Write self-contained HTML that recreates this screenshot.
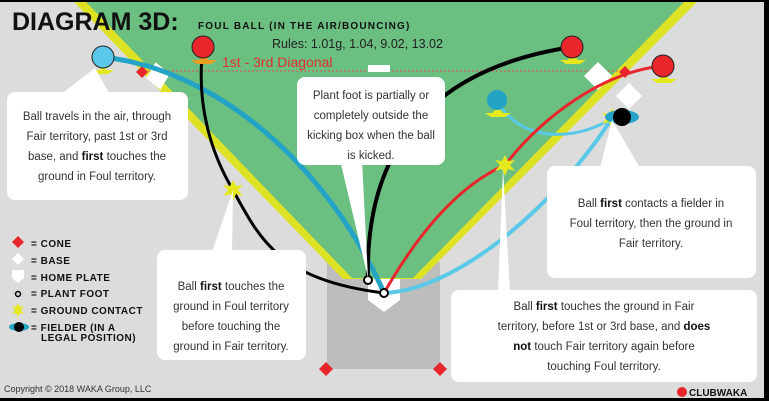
<!DOCTYPE html>
<html><head><meta charset="utf-8"><style>
html,body{margin:0;padding:0}
body{width:769px;height:401px;overflow:hidden;background:#000;font-family:"Liberation Sans",sans-serif}
svg{display:block}
.t{font-family:"Liberation Sans",sans-serif;font-size:11.5px;fill:#333;text-anchor:middle}
.lg{font-family:"Liberation Sans",sans-serif;font-size:10px;font-weight:bold;fill:#111;letter-spacing:.5px}
</style></head><body>
<svg width="769" height="401" viewBox="0 0 769 401" xmlns="http://www.w3.org/2000/svg">
<rect x="0" y="2" width="764" height="396" fill="#dcdcdc"/>
<rect x="327" y="262" width="113" height="107" fill="#bdbdbd"/>
<polygon points="74,2 697,2 421,279 343,279" fill="#dde324"/>
<polygon points="86,2 684,2 413,278 352,278" fill="#6bbf80"/>
<polygon points="368,279 400,279 400,300 384,312 368,300" fill="#fff"/>
<polygon points="326,362 333,369 326,376 319,369" fill="#e8262b"/>
<polygon points="440,362 447,369 440,376 433,369" fill="#e8262b"/>
<line x1="140" y1="71" x2="622" y2="71" stroke="#e05050" stroke-width="1" stroke-dasharray="2,2"/>
<rect x="368" y="65" width="22" height="7" fill="#fff"/>
<!-- bases -->
<polygon points="158,62 170,76 158,90 146,76" fill="#fff" transform="rotate(-10 158 76)"/>
<polygon points="142,66 148,72 142,78 136,72" fill="#e8262b"/>
<polygon points="598,62 612,76 598,90 584,76" fill="#fff"/>
<polygon points="629,83 642,96 629,109 616,96" fill="#fff"/>
<polygon points="625,66 631,72 625,78 619,72" fill="#e8262b"/>
<!-- curves -->
<path d="M103,57 C220,70 330,170 384,293" stroke="#23a3c5" stroke-width="5" fill="none"/>
<path d="M384,293 C460,290 560,200 612,118" stroke="#5ac8e8" stroke-width="4" fill="none"/>
<path d="M612,118 C580,140 520,145 497,100" stroke="#5ac8e8" stroke-width="3" fill="none"/>
<path d="M203,47 C195,110 215,160 233,190 C260,240 280,280 384,293" stroke="#000" stroke-width="3" fill="none"/>
<path d="M368,280 C365,160 420,70 572,47" stroke="#000" stroke-width="4" fill="none"/>
<path d="M384,293 C420,230 460,185 505,165 C540,120 600,72 663,66" stroke="#e8262b" stroke-width="3" fill="none"/>
<circle cx="368" cy="280" r="4" fill="#fff" stroke="#000" stroke-width="2"/>
<circle cx="384" cy="293" r="4" fill="#fff" stroke="#000" stroke-width="2"/>
<!-- stars -->
<g fill="#e6e81e">
<polygon points="233,180 236,186 243,185 238,190 243,196 236,194 233,201 230,194 223,196 228,190 223,185 230,186"/>
<polygon points="505,155 508,161 515,160 510,165 515,171 508,169 505,176 502,169 495,171 500,165 495,160 502,161"/>
<polygon points="612,108 615,114 622,113 617,118 622,124 615,122 612,129 609,122 602,124 607,118 602,113 609,114"/>
<polygon points="103,62 106,70 114,70 108,74 97,74 92,70 100,70"/>
<polygon points="203,52 209,60 217,60 211,64 197,64 191,60 199,60" fill="#e8a020"/>
<polygon points="572,52 578,60 586,60 580,64 566,64 560,60 568,60"/>
<polygon points="663,71 669,79 677,79 671,83 657,83 651,79 659,79"/>
<polygon points="497,105 503,113 511,113 505,117 491,117 485,113 493,113"/>
</g>
<circle cx="103" cy="57" r="11" fill="#5ac8e8" stroke="#222" stroke-width="1"/>
<circle cx="203" cy="47" r="11" fill="#e8262b" stroke="#222" stroke-width="1"/>
<circle cx="572" cy="47" r="11" fill="#e8262b" stroke="#222" stroke-width="1"/>
<circle cx="663" cy="66" r="11" fill="#e8262b" stroke="#222" stroke-width="1"/>
<circle cx="497" cy="100" r="10" fill="#23a3c5"/>
<ellipse cx="622" cy="117" rx="17" ry="7" fill="#23a3c5"/>
<circle cx="622" cy="117" r="9" fill="#000"/>
<!-- pointers -->
<g fill="#fff">
<polygon points="95,68 60,95 110,95"/>
<polygon points="368,278 340,160 362,160"/>
<polygon points="233,190 212,252 232,252"/>
<polygon points="612,120 600,168 640,168"/>
<polygon points="503,168 498,292 510,292"/>
</g>
<!-- boxes -->
<g fill="#fff">
<rect x="7" y="92" width="181" height="108" rx="8"/>
<rect x="297" y="77" width="148" height="88" rx="8"/>
<rect x="157" y="250" width="149" height="110" rx="8"/>
<rect x="547" y="166" width="209" height="112" rx="8"/>
<rect x="451" y="290" width="306" height="92" rx="8"/>
</g>
<text class="t" x="97" y="120">Ball travels in the air, through</text>
<text class="t" x="97" y="140">Fair territory, past 1st or 3rd</text>
<text class="t" x="97" y="160">base, and <tspan font-weight="bold" fill="#111">first</tspan> touches the</text>
<text class="t" x="97" y="180">ground in Foul territory.</text>
<text class="t" x="371" y="99">Plant foot is partially or</text>
<text class="t" x="371" y="119">completely outside the</text>
<text class="t" x="371" y="139">kicking box when the ball</text>
<text class="t" x="371" y="159">is kicked.</text>
<text class="t" x="231" y="290">Ball <tspan font-weight="bold" fill="#111">first</tspan> touches the</text>
<text class="t" x="231" y="310">ground in Foul territory</text>
<text class="t" x="231" y="330">before touching the</text>
<text class="t" x="231" y="350">ground in Fair territory.</text>
<text class="t" x="651" y="207">Ball <tspan font-weight="bold" fill="#111">first</tspan> contacts a fielder in</text>
<text class="t" x="651" y="227">Foul territory, then the ground in</text>
<text class="t" x="651" y="247">Fair territory.</text>
<text class="t" x="604" y="310">Ball <tspan font-weight="bold" fill="#111">first</tspan> touches the ground in Fair</text>
<text class="t" x="604" y="330">territory, before 1st or 3rd base, and <tspan font-weight="bold" fill="#111">does</tspan></text>
<text class="t" x="604" y="350"><tspan font-weight="bold" fill="#111">not</tspan> touch Fair territory again before</text>
<text class="t" x="604" y="370">touching Foul territory.</text>
<!-- title -->
<text x="12" y="30" font-family="Liberation Sans" font-weight="bold" font-size="25" fill="#111">DIAGRAM 3D:</text>
<text x="198" y="29" font-family="Liberation Sans" font-weight="bold" font-size="10" letter-spacing="1.2" fill="#111">FOUL BALL (IN THE AIR/BOUNCING)</text>
<text x="272" y="48" font-family="Liberation Sans" font-size="12.5" fill="#222">Rules: 1.01g, 1.04, 9.02, 13.02</text>
<text x="222" y="67" font-family="Liberation Sans" font-size="14" fill="#e03030">1st - 3rd Diagonal</text>
<!-- legend -->
<polygon points="18,236 24,242 18,248 12,242" fill="#e8262b"/>
<polygon points="18,253 24,259 18,265 12,259" fill="#fff"/>
<polygon points="12,270 24,270 24,278 18,283 12,278" fill="#fff"/>
<circle cx="18" cy="294" r="2.5" fill="none" stroke="#000" stroke-width="1.5"/>
<polygon points="18,303 20,307 24,306 21,310 24,314 20,313 18,317 16,313 12,314 15,310 12,306 16,307" fill="#e6e81e"/>
<ellipse cx="19" cy="327" rx="10" ry="4" fill="#23a3c5"/>
<circle cx="19" cy="327" r="5" fill="#000"/>
<text class="lg" x="31" y="247">= CONE</text>
<text class="lg" x="31" y="264">= BASE</text>
<text class="lg" x="31" y="281">= HOME PLATE</text>
<text class="lg" x="31" y="297">= PLANT FOOT</text>
<text class="lg" x="31" y="314">= GROUND CONTACT</text>
<text class="lg" x="31" y="331">= FIELDER (IN A</text>
<text class="lg" x="41" y="341">LEGAL POSITION)</text>
<text x="4" y="392" font-family="Liberation Sans" font-size="9" fill="#333">Copyright © 2018 WAKA Group, LLC</text>
<circle cx="682" cy="392" r="5" fill="#e8262b"/>
<text x="689" y="396" font-family="Liberation Sans" font-weight="bold" font-size="10" fill="#111">CLUBWAKA</text>
</svg>
</body></html>
